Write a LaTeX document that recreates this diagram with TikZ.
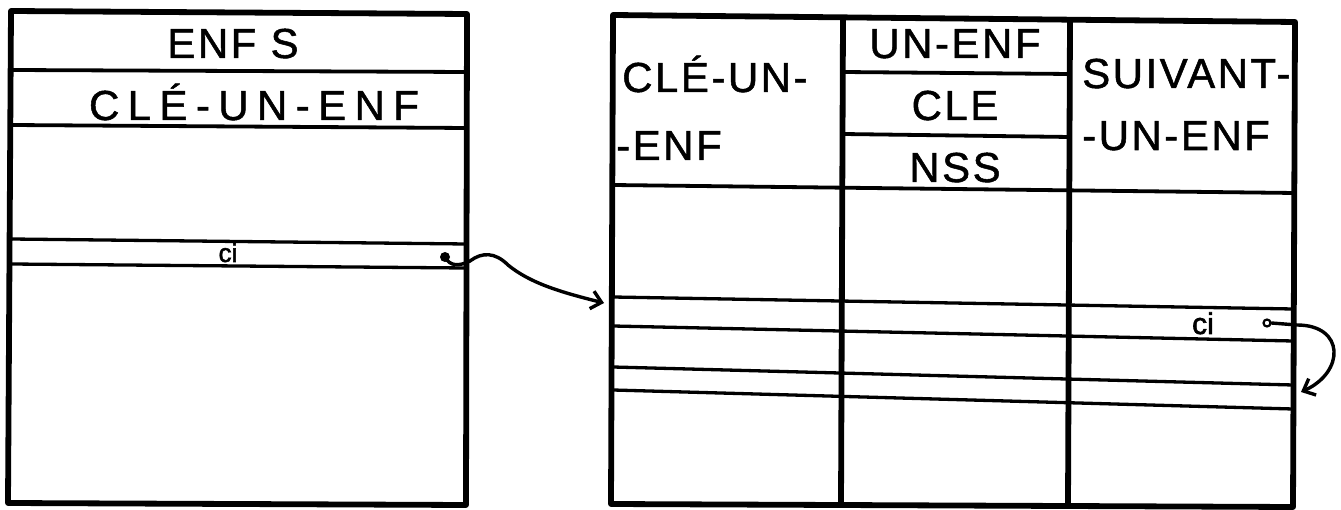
\documentclass[tikz,border=0pt]{standalone}
\usepackage{fontspec}
\setmainfont{Liberation Sans}
\newfontfamily\hand[LetterSpace=6,FakeBold=1.2]{Liberation Sans}
\newfontfamily\handwide[LetterSpace=20,FakeBold=1.2]{Liberation Sans}
\newfontfamily\handci[FakeBold=2]{Liberation Sans}
\usetikzlibrary{arrows.meta}
\begin{document}
\begin{tikzpicture}[x=1pt,y=-1pt,
  frame/.style={line width=5.8pt, line join=round},
  rule/.style={line width=3.8pt},
  thinrule/.style={line width=3.3pt},
  lbl/.style={anchor=base, inner sep=0pt, font=\hand\fontsize{42}{42}\selectfont},
  lblw/.style={anchor=base, inner sep=0pt, font=\handwide\fontsize{42}{42}\selectfont},
  cilbl/.style={anchor=base, inner sep=0pt, font=\handci\fontsize{26}{26}\selectfont},
  dotfull/.style={circle, fill, inner sep=0pt, minimum size=10pt},
  dotopen/.style={circle, draw, line width=2.2pt, inner sep=0pt, minimum size=7pt},
  conn/.style={line width=3.4pt, line cap=round, -{Straight Barb[length=10pt,width=18pt,line width=3.4pt]}}]
\useasboundingbox (0,0) rectangle (1341,510);
\fill[white] (0,0) rectangle (1341,510);

% ---------------- left table ----------------
\draw[frame] (11,11) -- (467,14) -- (466,505) -- (8,503) -- cycle;
\draw[rule] (11,70) -- (467,72);
\draw[rule] (11,125) -- (467,128);
\draw[thinrule] (11,239) -- (466,244);
\draw[thinrule] (11,264) -- (466,268);
\node[lbl] (enfs) at (233,58) {ENF S};
\node[lblw] (cle1) at (254,120) {CLÉ-UN-ENF};
\node[cilbl] (ci1) at (228,262) {ci};
\node[dotfull] (d1) at (445,257) {};

% ---------------- right table ----------------
\draw[frame] (613,15) -- (1295,22) -- (1293,507) -- (611,504) -- cycle;
\draw[frame] (843,17) -- (841,505);
\draw[frame] (1070,20) -- (1068,506);
\draw[rule] (613,185) -- (1295,193);
\draw[rule] (843,72) -- (1070,74);
\draw[rule] (843,134) -- (1070,137);
\draw[thinrule] (613,297) -- (1293,309);
\draw[thinrule] (613,326) -- (1293,341);
\draw[thinrule] (613,367) -- (1293,385);
\draw[thinrule] (613,390) -- (1293,409);

\node[lbl, anchor=base west] (cle2a) at (622,92) {CLÉ-UN-};
\node[lbl, anchor=base west] (cle2b) at (616,160) {-ENF};
\node[lbl] (unenf) at (955,58) {UN-ENF};
\node[lbl] (cle3) at (955,120) {CLE};
\node[lbl] (nss) at (955,182) {NSS};
\node[lbl, anchor=base west] (suiv1) at (1082,88) {SUIVANT-};
\node[lbl, anchor=base west] (suiv2) at (1082,150) {-UN-ENF};
\node[cilbl, font=\handci\fontsize{30}{30}\selectfont] (ci2) at (1203,334) {ci};
\node[dotopen] (d2) at (1267,323) {};

% ---------------- connectors ----------------
\coordinate (t1) at (604,303);
\coordinate (t2) at (1301,392);
\draw[conn] (d1.center) .. controls (450,267) and (460,266) .. (470,261)
  .. controls (482,252) and (495,252) .. (508,265)
  .. controls (530,283) and (560,292) .. (t1);
\draw[conn] (d2.east) -- (1297,325) .. controls (1345,325) and (1345,372) .. (t2);
\end{tikzpicture}
\end{document}
